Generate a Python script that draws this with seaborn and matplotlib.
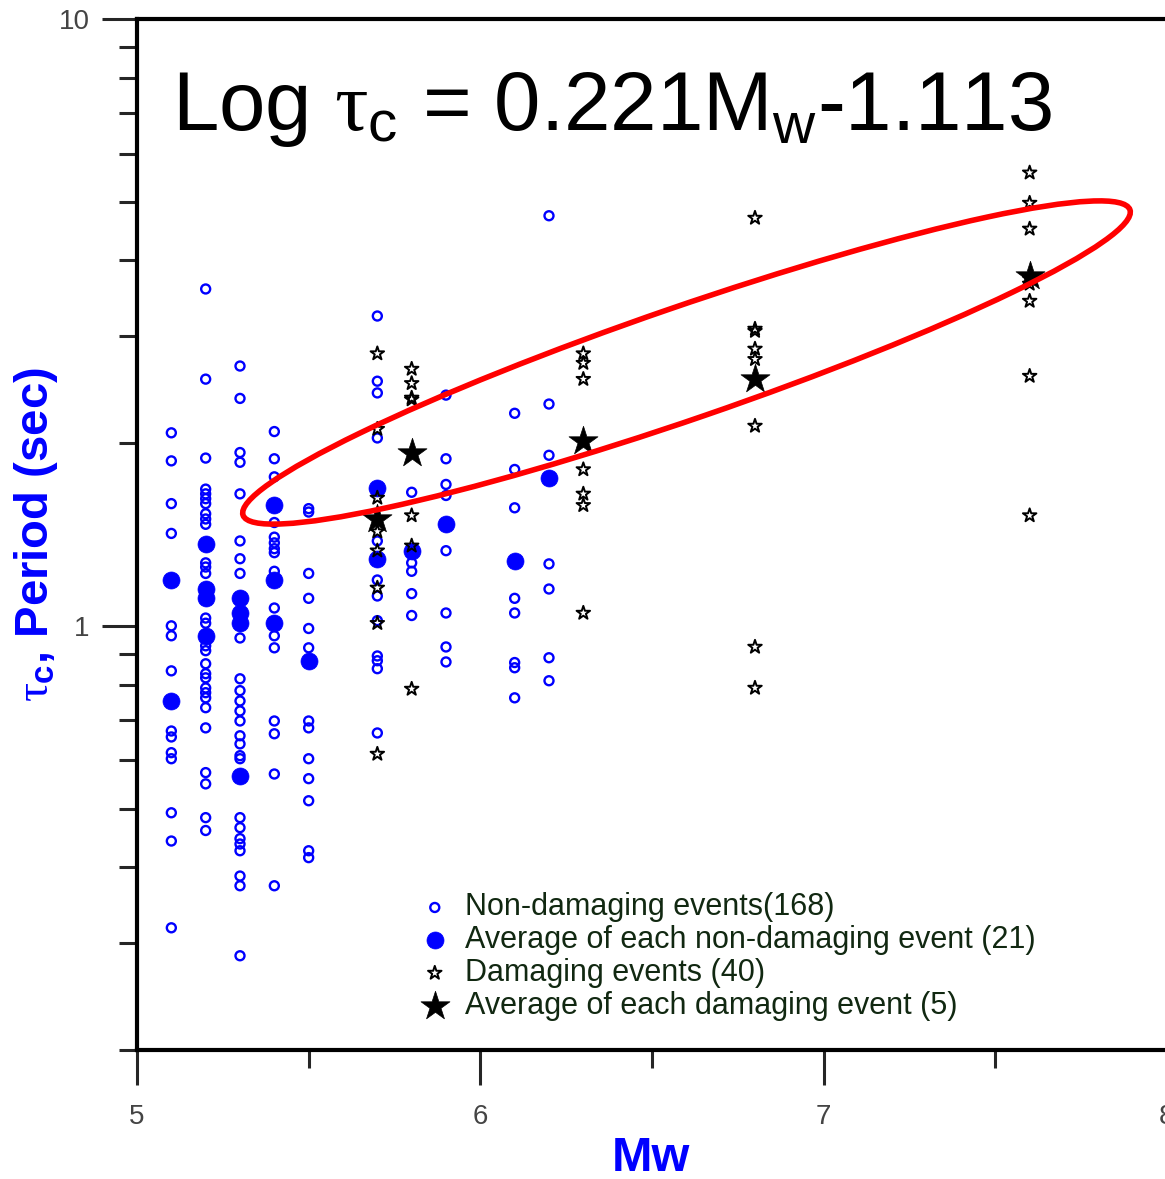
import numpy as np
import pandas as pd
import seaborn as sns
import matplotlib.pyplot as plt
from matplotlib import ticker
from matplotlib.patches import Ellipse

# tau_c (sec), grouped by event magnitude Mw
non_damaging = {
    5.1: [2.08, 1.87, 1.59, 1.42, 1.00, 0.963, 0.843, 0.671, 0.656, 0.618, 0.604, 0.492, 0.442, 0.318],
    5.2: [3.59, 2.55, 1.89, 1.68, 1.65, 1.62, 1.59, 1.53, 1.50, 1.47, 1.27, 1.25, 1.22, 1.03, 1.01,
          0.927, 0.910, 0.866, 0.834, 0.821, 0.790, 0.776, 0.761, 0.733, 0.679, 0.573, 0.549, 0.483, 0.460],
    5.3: [2.68, 2.37, 1.93, 1.86, 1.65, 1.38, 1.29, 1.22, 0.955, 0.818, 0.782, 0.752, 0.724, 0.697,
          0.659, 0.639, 0.611, 0.604, 0.483, 0.465, 0.446, 0.437, 0.426, 0.387, 0.373, 0.286],
    5.4: [2.09, 1.885, 1.76, 1.48, 1.40, 1.37, 1.34, 1.32, 1.23, 1.07, 0.963, 0.920, 0.697, 0.664, 0.570, 0.373],
    5.5: [1.56, 1.54, 1.22, 1.11, 0.99, 0.92, 0.697, 0.679, 0.604, 0.560, 0.515, 0.426, 0.415],
    5.7: [3.24, 2.53, 2.42, 2.04, 1.38, 1.19, 1.12, 1.02, 0.892, 0.876, 0.850, 0.666],
    5.8: [1.66, 1.27, 1.23, 1.13, 1.04],
    5.9: [2.40, 1.885, 1.71, 1.64, 1.33, 1.05, 0.923, 0.872],
    6.1: [2.24, 1.81, 1.565, 1.11, 1.05, 0.87, 0.853, 0.761],
    6.2: [4.74, 2.32, 1.91, 1.265, 1.15, 0.886, 0.812],
}
non_damaging_avg = {
    5.1: [1.19, 0.752],
    5.2: [1.365, 1.15, 1.11, 0.963],
    5.3: [1.11, 1.05, 1.01, 0.566],
    5.4: [1.58, 1.19, 1.01],
    5.5: [0.876],
    5.7: [1.69, 1.29],
    5.8: [1.33],
    5.9: [1.47],
    6.1: [1.28],
    6.2: [1.75],
}
damaging = {
    5.7: [2.81, 2.11, 1.625, 1.50, 1.43, 1.33, 1.155, 1.01, 0.615],
    5.8: [2.65, 2.51, 2.375, 2.36, 1.52, 1.355, 0.787],
    6.3: [2.81, 2.71, 2.55, 2.02, 1.81, 1.65, 1.58, 1.05],
    6.8: [4.70, 3.085, 3.06, 2.86, 2.75, 2.135, 0.923, 0.790],
    7.6: [5.58, 4.975, 4.51, 3.73, 3.66, 3.43, 2.58, 1.52],
}
damaging_avg_mw = [5.7, 5.8, 6.3, 6.8, 7.6]
damaging_avg_tau = [1.50, 1.93, 2.02, 2.55, 3.77]

labels = ["Non-damaging events(168)",
          "Average of each non-damaging event (21)",
          "Damaging events (40)",
          "Average of each damaging event (5)"]


def to_frame(groups):
    rows = [(mw, t) for mw, ts in groups.items() for t in ts]
    return pd.DataFrame(rows, columns=["Mw", "tau"])


df_nd = to_frame(non_damaging)
df_nd_avg = to_frame(non_damaging_avg)
df_d = to_frame(damaging)
df_d_avg = pd.DataFrame({"Mw": damaging_avg_mw, "tau": damaging_avg_tau})

sns.set_style("ticks")
plt.rcParams["font.family"] = ["Liberation Sans", "DejaVu Sans"]
plt.rcParams["mathtext.fontset"] = "custom"
plt.rcParams["mathtext.rm"] = "Liberation Sans"
plt.rcParams["mathtext.it"] = "Liberation Serif"
plt.rcParams["mathtext.bf"] = "Liberation Sans:bold"

fig = plt.figure(figsize=(11.65, 11.79), dpi=100)
ax = fig.add_axes([0.1176, 0.1094, 0.8841, 0.8745])

blue = "#0000ff"
sns.scatterplot(data=df_nd, x="Mw", y="tau", ax=ax, marker="o", s=42, color="none",
                edgecolor=blue, linewidth=1.7, label=labels[0], zorder=3)
sns.scatterplot(data=df_nd_avg, x="Mw", y="tau", ax=ax, marker="o", s=150, color=blue,
                edgecolor=blue, linewidth=0.5, label=labels[1], zorder=4)
sns.scatterplot(data=df_d, x="Mw", y="tau", ax=ax, marker="*", s=105, color="none",
                edgecolor="black", linewidth=1.4, label=labels[2], zorder=5)
sns.scatterplot(data=df_d_avg, x="Mw", y="tau", ax=ax, marker="*", s=480, color="black",
                edgecolor="black", linewidth=0.5, label=labels[3], zorder=6)

ax.set_yscale("log")
ax.set_xlim(5, 8)
ax.set_ylim(0.2, 10)
ax.set_xticks([5, 6, 7, 8])
ax.set_xticks([5.5, 6.5, 7.5], minor=True)
ax.set_yticks([1, 10])
ax.yaxis.set_minor_locator(ticker.LogLocator(base=10, subs=np.arange(2, 10) * 1.0, numticks=20))
ax.yaxis.set_major_formatter(ticker.FuncFormatter(lambda v, p: f"{v:g}"))
ax.yaxis.set_minor_formatter(ticker.NullFormatter())

ax.tick_params(which="major", direction="out", length=25, width=2.2, labelsize=20,
               labelcolor="#444444", pad=14)
ax.tick_params(axis="y", which="major", pad=9)
ax.tick_params(which="minor", direction="out", length=13, width=2.2)
for sp in ax.spines.values():
    sp.set_linewidth(3)
    sp.set_color("black")

ax.set_xlabel("Mw", fontsize=35, fontweight="bold", color=blue)
ax.xaxis.set_label_coords(0.499, -0.083)
ax.set_ylabel(r"$\tau_\mathregular{c}$, Period (sec)", fontsize=34, fontweight="bold", color=blue)
ax.yaxis.set_label_coords(-0.075, 0.5)

ax.legend(loc="upper left", bbox_to_anchor=(392 / 1165, (1179 - 865) / 1179),
          bbox_transform=fig.transFigure, frameon=False, fontsize=22, handlelength=1.0,
          handletextpad=0.5, labelspacing=0.09, borderpad=0.4, labelcolor="#112811",
          scatterpoints=1)

# regression formula and the highlighted trend
fig.text(172 / 1165, (1179 - 130) / 1179,
         r"Log $\tau_\mathregular{c}$ = 0.221$\mathregular{M_w}$-1.113",
         fontsize=60, ha="left", va="baseline", color="black")
fig.add_artist(Ellipse((6.865, 8.165), 9.38, 1.12, angle=19, transform=fig.dpi_scale_trans,
                       fill=False, edgecolor="#ff0000", linewidth=4, zorder=10))

fig.savefig("out.png", dpi=100)
